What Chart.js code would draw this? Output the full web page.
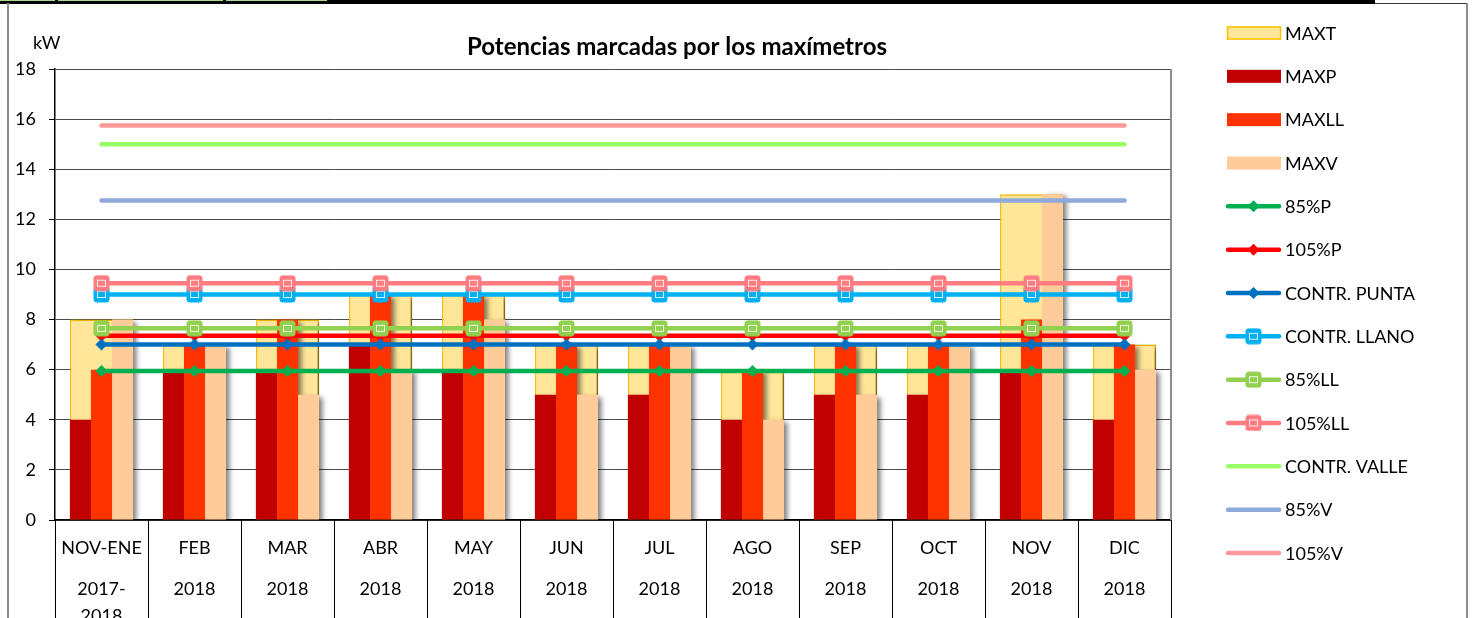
<!DOCTYPE html>
<html><head><meta charset="utf-8">
<script src="https://cdn.jsdelivr.net/npm/chart.js@4"></script>
<style>
html,body{margin:0;padding:0;background:#fff;overflow:hidden}
#wrap{position:relative;width:1475px;height:618px;background:#fff}
#c{position:absolute;left:0;top:0}
.deco{position:absolute}
</style></head><body>
<div id="wrap">
<canvas id="c" width="1475" height="618"></canvas>
<div class="deco" style="left:0;top:0;width:1375px;height:4px;background:#000"></div>
<div class="deco" style="left:0;top:0;width:55px;height:1px;background:#a9d98e"></div>
<div class="deco" style="left:58px;top:0;width:165px;height:1px;background:#a9d98e"></div>
<div class="deco" style="left:226px;top:0;width:101px;height:1px;background:#a9d98e"></div>
<div class="deco" style="left:1375px;top:3px;width:93px;height:1px;background:#333"></div>
<div class="deco" style="left:7px;top:3px;width:2px;height:615px;background:#8c8c8c"></div>
<div class="deco" style="left:1466px;top:3px;width:2px;height:615px;background:#8c8c8c"></div>
</div>
<script>
// ---- data ----
const categories = ['NOV-ENE','FEB','MAR','ABR','MAY','JUN','JUL','AGO','SEP','OCT','NOV','DIC'];
const periods    = [['2017-','2018'],['2018'],['2018'],['2018'],['2018'],['2018'],['2018'],['2018'],['2018'],['2018'],['2018'],['2018']];
const yTicks = [0,2,4,6,8,10,12,14,16,18];
const maxT  = [8,7,8,9,9,7,7,6,7,7,13,7];
const maxP  = [4,6,6,7,6,5,5,4,5,5,6,4];
const maxLL = [6,7,8,9,9,7,7,6,7,7,8,7];
const maxV  = [8,7,5,6,8,5,7,4,5,7,13,6];
const p85     = [5.95,5.95,5.95,5.95,5.95,5.95,5.95,5.95,5.95,5.95,5.95,5.95];
const p105    = [7.35,7.35,7.35,7.35,7.35,7.35,7.35,7.35,7.35,7.35,7.35,7.35];
const contrP  = [7,7,7,7,7,7,7,7,7,7,7,7];
const contrLL = [9,9,9,9,9,9,9,9,9,9,9,9];
const ll85    = [7.65,7.65,7.65,7.65,7.65,7.65,7.65,7.65,7.65,7.65,7.65,7.65];
const ll105   = [9.45,9.45,9.45,9.45,9.45,9.45,9.45,9.45,9.45,9.45,9.45,9.45];
const contrV  = [15,15,15,15,15,15,15,15,15,15,15,15];
const v85     = [12.75,12.75,12.75,12.75,12.75,12.75,12.75,12.75,12.75,12.75,12.75,12.75];
const v105    = [15.75,15.75,15.75,15.75,15.75,15.75,15.75,15.75,15.75,15.75,15.75,15.75];

const FONT = 'Lato, "Open Sans", sans-serif';

function sqMarker(color){
  const c = document.createElement('canvas'); c.width = 17; c.height = 17;
  const g = c.getContext('2d');
  g.fillStyle = color;
  g.beginPath(); g.roundRect(0.5,0.5,16,16,3.5); g.fill();
  g.strokeStyle = 'rgba(255,255,255,0.85)'; g.lineWidth = 1;
  g.strokeRect(4.5,5.5,8,6);
  return c;
}

function lineDs(label, data, color, style, idx){
  const d = {type:'line', label, data, borderColor:color, backgroundColor:color,
    borderWidth:4.5, borderCapStyle:'round', tension:0, order:20-idx,
    pointBorderWidth:0, pointHoverRadius:0};
  if (style === 'diamond'){ d.pointStyle='rectRot'; d.pointRadius=6; d.pointBackgroundColor=color; d._mk='diamond'; }
  else if (style === 'square'){ d.pointStyle=sqMarker(color); d.pointRadius=8; d._mk='square'; }
  else { d.pointRadius=0; d._mk='none'; }
  return d;
}

const datasets = [
  {type:'bar', label:'MAXT', data:maxT, backgroundColor:'#FFE699', borderColor:'#FFC000', borderWidth:1.5,
   borderSkipped:false, grouped:false, order:50, barPercentage:1, categoryPercentage:0.68},
  {type:'bar', label:'MAXP', data:maxP, backgroundColor:'#C00000', borderWidth:0, order:31, barPercentage:1, categoryPercentage:0.68},
  {type:'bar', label:'MAXLL', data:maxLL, backgroundColor:'#FF3300', borderWidth:0, order:32, barPercentage:1, categoryPercentage:0.68},
  {type:'bar', label:'MAXV', data:maxV, backgroundColor:'#FFCC99', borderWidth:0, order:33, barPercentage:1, categoryPercentage:0.68},
  lineDs('85%P', p85, '#00B050', 'diamond', 4),
  lineDs('105%P', p105, '#FF0000', 'diamond', 5),
  lineDs('CONTR. PUNTA', contrP, '#0070C0', 'diamond', 6),
  lineDs('CONTR. LLANO', contrLL, '#00B0F0', 'square', 7),
  lineDs('85%LL', ll85, '#92D050', 'square', 8),
  lineDs('105%LL', ll105, '#FF7C80', 'square', 9),
  lineDs('CONTR. VALLE', contrV, '#99FF66', 'none', 10),
  lineDs('85%V', v85, '#8EA9DB', 'none', 11),
  lineDs('105%V', v105, '#FF9999', 'none', 12)
];

const SH = {color:'rgba(0,0,0,0.5)', blur:5, dx:4, dy:2};

const decoPlugin = {
  id:'deco',
  beforeDatasetDraw(chart, args){
    const ds = chart.data.datasets[args.index];
    if (ds.label === 'MAXT'){
      const ctx = chart.ctx; ctx.save();
      ctx.shadowColor = SH.color; ctx.shadowBlur = SH.blur; ctx.shadowOffsetX = SH.dx; ctx.shadowOffsetY = SH.dy;
    }
  },
  afterDatasetDraw(chart, args){
    const ds = chart.data.datasets[args.index];
    if (ds.label !== 'MAXT') return;
    const ctx = chart.ctx; ctx.restore();
    const a = chart.chartArea;
    ctx.save();
    ctx.beginPath(); ctx.rect(a.left, a.top, a.right - a.left + 8, a.bottom - a.top); ctx.clip();
    const far = 5000;
    ctx.shadowColor = SH.color; ctx.shadowBlur = SH.blur; ctx.shadowOffsetX = SH.dx + far; ctx.shadowOffsetY = SH.dy;
    ctx.fillStyle = '#000';
    [1,2,3].forEach(k => {
      chart.getDatasetMeta(k).data.forEach(bar => {
        const p = bar.getProps(['x','y','base','width'], true);
        ctx.fillRect(p.x - p.width/2 - far, p.y, p.width, p.base - p.y);
      });
    });
    ctx.restore();
  },
  afterDraw(chart){
    const ctx = chart.ctx, a = chart.chartArea, xs = chart.scales.x;
    ctx.save();
    ctx.strokeStyle = '#8c8c8c'; ctx.lineWidth = 2;
    ctx.beginPath(); ctx.moveTo(a.right, a.top); ctx.lineTo(a.right, a.bottom); ctx.stroke();
    ctx.strokeStyle = '#000'; ctx.lineWidth = 1;
    const n = categories.length;
    for (let i = 0; i <= n; i++){
      let x;
      if (i === 0) x = a.left; else if (i === n) x = a.right;
      else x = (xs.getPixelForTick(i-1) + xs.getPixelForTick(i)) / 2;
      x = Math.round(x) + 0.5;
      ctx.beginPath(); ctx.moveTo(x, a.bottom); ctx.lineTo(x, chart.height); ctx.stroke();
    }
    ctx.fillStyle = '#000'; ctx.textBaseline = 'middle';
    ctx.font = 'bold 24px ' + FONT; ctx.textAlign = 'center';
    ctx.fillText('Potencias marcadas por los maxímetros', 677, 47);
    ctx.font = '18px ' + FONT; ctx.textAlign = 'left';
    ctx.fillText('kW', 33, 43);
    const x0 = 1226, x1 = 1281, tx = 1285;
    chart.data.datasets.forEach((d, i) => {
      const y = 33 + i * 43.33;
      if (d.type === 'bar'){
        ctx.fillStyle = d.backgroundColor;
        ctx.fillRect(x0 + 1, y - 6.5, x1 - x0 - 1, 13);
        if (d.label === 'MAXT'){ ctx.strokeStyle = d.borderColor; ctx.lineWidth = 1.5; ctx.strokeRect(x0 + 1.5, y - 6, x1 - x0 - 2, 12); }
      } else {
        ctx.strokeStyle = d.borderColor; ctx.lineWidth = d.borderWidth; ctx.lineCap = 'round';
        ctx.beginPath(); ctx.moveTo(x0 + 2, y); ctx.lineTo(x1 - 2, y); ctx.stroke();
        const cx = (x0 + x1) / 2;
        if (d._mk === 'diamond'){
          ctx.fillStyle = d.borderColor; ctx.beginPath();
          ctx.moveTo(cx, y - 6); ctx.lineTo(cx + 6, y); ctx.lineTo(cx, y + 6); ctx.lineTo(cx - 6, y); ctx.closePath(); ctx.fill();
        } else if (d._mk === 'square'){
          ctx.drawImage(d.pointStyle, cx - 8.5, y - 8.5);
        }
      }
      ctx.fillStyle = '#000'; ctx.font = '18px ' + FONT; ctx.textAlign = 'left'; ctx.textBaseline = 'middle';
      ctx.fillText(d.label, tx, y + 1);
    });
    ctx.restore();
  }
};

new Chart(document.getElementById('c'), {
  type:'bar',
  data:{labels:categories, datasets},
  options:{
    responsive:false, animation:false, devicePixelRatio:1, events:[],
    layout:{padding:{top:69, right:304, left:0, bottom:0}},
    plugins:{legend:{display:false}, title:{display:false}, tooltip:{enabled:false}},
    scales:{
      x:{type:'category', offset:true, grid:{display:false, drawTicks:false}, border:{display:true, color:'#000', width:1.5},
         ticks:{color:'#000', font:{family:FONT, size:18, lineHeight:'13.667px'}, padding:21, maxRotation:0, autoSkip:false,
                callback:(v, i) => [categories[i], '', ''].concat(periods[i].length > 1 ? [periods[i][0], '', periods[i][1]] : periods[i])},
         afterFit(s){ s.height = 98; }},
      y:{min:0, max:18, border:{display:true, color:'#000', width:1.5},
         grid:{color:'#4a4a4a', lineWidth:1, tickLength:6, tickColor:'#000'},
         ticks:{stepSize:2, color:'#000', padding:13, font:{family:FONT, size:18},
                callback:(v) => yTicks.includes(v) ? String(v) : ''},
         afterFit(s){ s.width = 55; }}
    }
  },
  plugins:[decoPlugin]
});
</script>
</body></html>
